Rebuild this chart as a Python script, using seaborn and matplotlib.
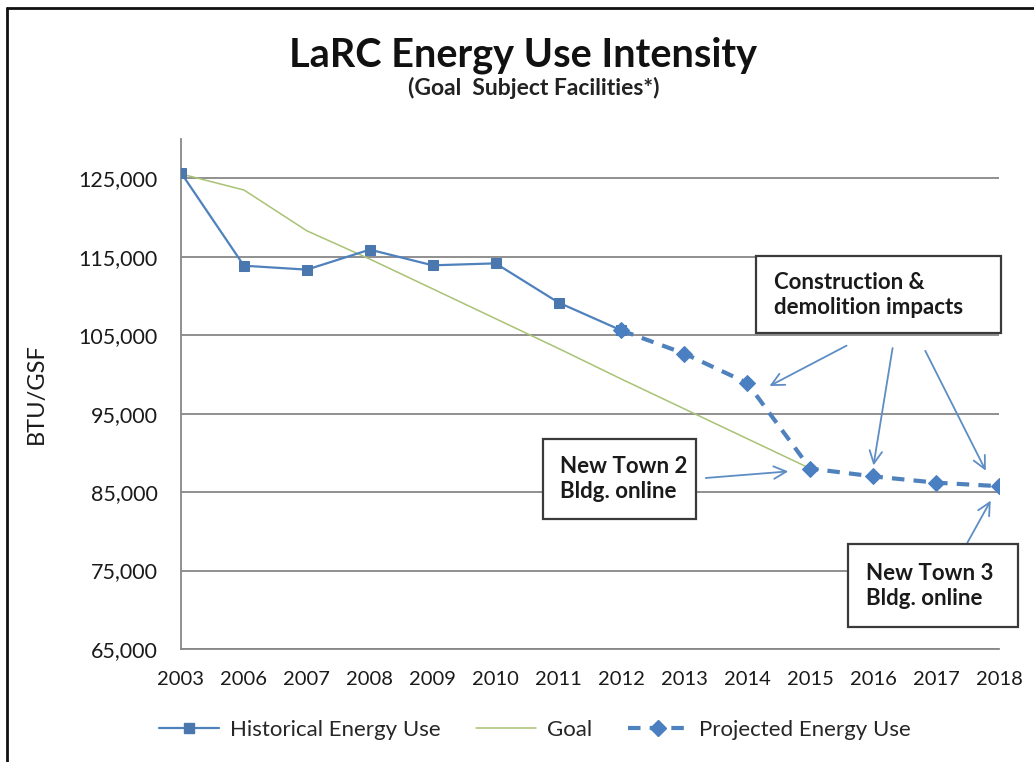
import pandas as pd
import matplotlib
matplotlib.use('Agg')
import matplotlib.pyplot as plt
from matplotlib.patches import Rectangle
from matplotlib.lines import Line2D
import seaborn as sns

# data
years = ['2003', '2006', '2007', '2008', '2009', '2010', '2011', '2012',
         '2013', '2014', '2015', '2016', '2017', '2018']
historical = [125700, 113850, 113350, 115900, 113900, 114150, 109150, 105600]
goal = [125550, 123500, 118300, 114700, 110900, 107100, 103300, 99400,
        95600, 91800, 88000]
projected = [105600, 102650, 98900, 88000, 87000, 86200, 85750]

hist_df = pd.DataFrame({'pos': range(len(historical)), 'val': historical})
goal_df = pd.DataFrame({'pos': range(len(goal)), 'val': goal})
proj_start = len(historical) - 1
proj_df = pd.DataFrame({'pos': range(proj_start, proj_start + len(projected)),
                        'val': projected})

sns.set_style('white')
plt.rcParams['font.family'] = ['Lato', 'DejaVu Sans']

W, H = 1034, 762
fig = plt.figure(figsize=(W / 100, H / 100), dpi=100)
ax = fig.add_axes([181 / W, 1 - 649 / H, 818 / W, 510 / H])

blue = '#4F81BD'
grid_c = '#878787'

sns.lineplot(data=goal_df, x='pos', y='val', ax=ax, color='#A9C274',
             linewidth=1.1, label='Goal', zorder=2)
sns.lineplot(data=hist_df, x='pos', y='val', ax=ax, color=blue, linewidth=1.6,
             marker='s', markersize=7, markerfacecolor='#4A78AE',
             markeredgecolor='#4A78AE', label='Historical Energy Use', zorder=3)
sns.lineplot(data=proj_df, x='pos', y='val', ax=ax, color=blue, linewidth=3,
             marker='D', markersize=8, markerfacecolor='#4A7FC1',
             markeredgecolor='#4A7FC1', label='Projected Energy Use', zorder=4)
ax.lines[-1].set_linestyle((0, (3, 2.2)))

ax.set_xlim(0, len(years) - 1)
ax.set_ylim(65000, 130000)
ax.set_xticks(range(len(years)))
ax.set_xticklabels(years)
ax.set_yticks(range(65000, 125001, 10000))
ax.set_yticklabels([f'{v:,}' for v in range(65000, 125001, 10000)])
ax.grid(axis='y', color=grid_c, linewidth=1.3)
ax.set_axisbelow(True)
for s in ['top', 'right']:
    ax.spines[s].set_visible(False)
for s in ['left', 'bottom']:
    ax.spines[s].set_color(grid_c)
    ax.spines[s].set_linewidth(1.3)
ax.tick_params(axis='both', direction='out', length=6, width=1.2, color=grid_c,
               labelcolor='#1a1a1a', pad=10)
ax.tick_params(axis='x', labelsize=14.5)
ax.tick_params(axis='y', labelsize=15.5, pad=11)
ax.set_xlabel('')
ax.set_ylabel('BTU/GSF', fontsize=17, color='#1a1a1a')
ax.yaxis.set_label_coords(-0.164, 0.5)

# title
fig.text(523 / W, 1 - 55 / H, 'LaRC Energy Use Intensity', ha='center', va='center',
         fontsize=28.5, fontweight='bold', color='#111111')
fig.text(534 / W, 1 - 88 / H, '(Goal  Subject Facilities*)', ha='center', va='center',
         fontsize=16.5, fontweight='bold', color='#222222')

# legend
ax.get_legend().remove()
handles = [
    Line2D([], [], color=blue, linewidth=1.6, marker='s', markersize=7,
           markerfacecolor='#4A78AE', markeredgecolor='#4A78AE'),
    Line2D([], [], color='#A9C274', linewidth=1.1),
    Line2D([], [], color=blue, linewidth=3, linestyle=(0, (3, 2.2)), marker='D',
           markersize=8, markerfacecolor='#4A7FC1', markeredgecolor='#4A7FC1'),
]
fig.legend(handles, ['Historical Energy Use', 'Goal', 'Projected Energy Use'],
           loc='center', bbox_to_anchor=(535 / W, 1 - 730 / H), ncol=3,
           frameon=False, fontsize=16, handlelength=2.7, columnspacing=1.6,
           handletextpad=0.5)

# annotation boxes (figure pixels, top-left origin)
def box(x0, y0, x1, y1, tx, ty, text):
    fig.patches.append(Rectangle((x0 / W, 1 - y1 / H), (x1 - x0) / W, (y1 - y0) / H,
                                 transform=fig.transFigure, facecolor='white',
                                 edgecolor='#3a3a3a', linewidth=1.6, zorder=5))
    fig.text(tx / W, 1 - ty / H, text, ha='left', va='center', fontsize=16,
             fontweight='bold', color='#1a1a1a', linespacing=1.25, zorder=6)

box(756, 256, 1001, 333, 774, 295, 'Construction &\ndemolition impacts')
box(543, 439, 696, 519, 560, 479, 'New Town 2\nBldg. online')
box(848, 544, 1018, 627, 866, 586, 'New Town 3\nBldg. online')

# arrows: (start px, end px) -> data coords
def to_data(px, py):
    return ((px - 181) / 62.92, 65000 + (649 - py) / 7.855 * 1000)

arrows = [((849, 344), (767, 387)), ((893, 345), (873, 468)),
          ((924, 348), (987, 473)), ((703, 478), (791, 471)),
          ((966, 545), (992, 498))]
for (sx, sy), (ex, ey) in arrows:
    ax.annotate('', xy=to_data(ex, ey), xytext=to_data(sx, sy),
                annotation_clip=False, zorder=7,
                arrowprops=dict(arrowstyle='->,head_length=0.9,head_width=0.45',
                                color='#5E8DC4', linewidth=1.3))

# outer frame (top and left edges only visible)
fig.add_artist(Line2D([7 / W, 1], [1 - 8 / H, 1 - 8 / H], transform=fig.transFigure,
                      color='#111111', linewidth=2))
fig.add_artist(Line2D([7 / W, 7 / W], [0, 1 - 8 / H], transform=fig.transFigure,
                      color='#111111', linewidth=2))

fig.savefig('out.png', dpi=100)
